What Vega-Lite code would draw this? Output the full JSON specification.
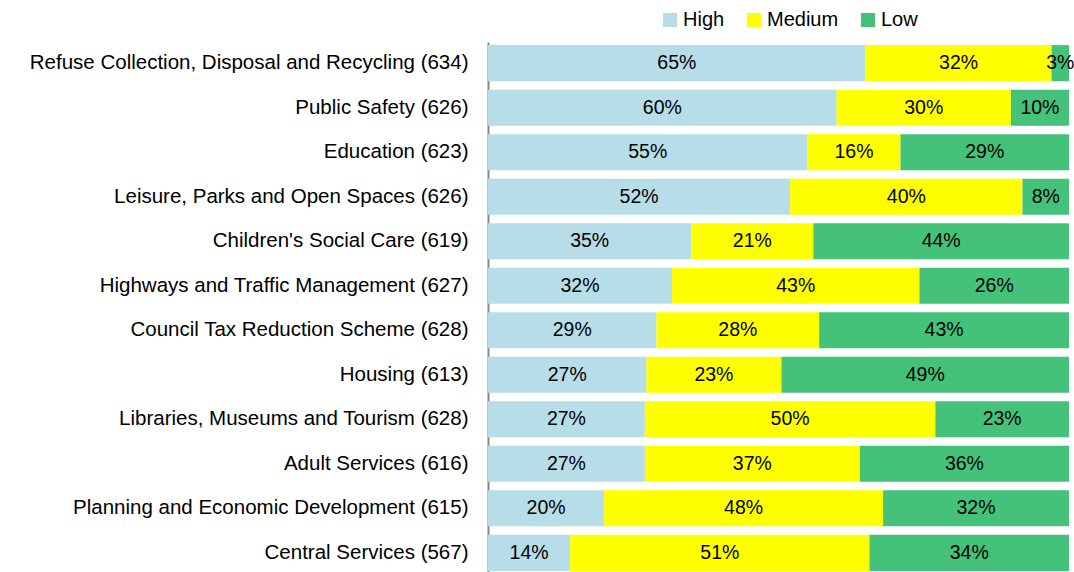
{
  "$schema": "https://vega.github.io/schema/vega-lite/v6.json",
  "autosize": {"type": "none"},
  "width": 581,
  "height": 532,
  "padding": {"left": 488, "top": 42, "right": 5, "bottom": 0},
  "background": "white",
  "config": {"view": {"stroke": null}, "font": "Liberation Sans"},
  "data": {"values": [
    {"cat": "Refuse Collection, Disposal and Recycling (634)", "level": "High", "rank": 1, "pct": 65},
    {"cat": "Refuse Collection, Disposal and Recycling (634)", "level": "Medium", "rank": 2, "pct": 32},
    {"cat": "Refuse Collection, Disposal and Recycling (634)", "level": "Low", "rank": 3, "pct": 3},
    {"cat": "Public Safety (626)", "level": "High", "rank": 1, "pct": 60},
    {"cat": "Public Safety (626)", "level": "Medium", "rank": 2, "pct": 30},
    {"cat": "Public Safety (626)", "level": "Low", "rank": 3, "pct": 10},
    {"cat": "Education (623)", "level": "High", "rank": 1, "pct": 55},
    {"cat": "Education (623)", "level": "Medium", "rank": 2, "pct": 16},
    {"cat": "Education (623)", "level": "Low", "rank": 3, "pct": 29},
    {"cat": "Leisure, Parks and Open Spaces (626)", "level": "High", "rank": 1, "pct": 52},
    {"cat": "Leisure, Parks and Open Spaces (626)", "level": "Medium", "rank": 2, "pct": 40},
    {"cat": "Leisure, Parks and Open Spaces (626)", "level": "Low", "rank": 3, "pct": 8},
    {"cat": "Children's Social Care (619)", "level": "High", "rank": 1, "pct": 35},
    {"cat": "Children's Social Care (619)", "level": "Medium", "rank": 2, "pct": 21},
    {"cat": "Children's Social Care (619)", "level": "Low", "rank": 3, "pct": 44},
    {"cat": "Highways and Traffic Management  (627)", "level": "High", "rank": 1, "pct": 32},
    {"cat": "Highways and Traffic Management  (627)", "level": "Medium", "rank": 2, "pct": 43},
    {"cat": "Highways and Traffic Management  (627)", "level": "Low", "rank": 3, "pct": 26},
    {"cat": "Council Tax Reduction Scheme (628)", "level": "High", "rank": 1, "pct": 29},
    {"cat": "Council Tax Reduction Scheme (628)", "level": "Medium", "rank": 2, "pct": 28},
    {"cat": "Council Tax Reduction Scheme (628)", "level": "Low", "rank": 3, "pct": 43},
    {"cat": "Housing (613)", "level": "High", "rank": 1, "pct": 27},
    {"cat": "Housing (613)", "level": "Medium", "rank": 2, "pct": 23},
    {"cat": "Housing (613)", "level": "Low", "rank": 3, "pct": 49},
    {"cat": "Libraries, Museums and Tourism (628)", "level": "High", "rank": 1, "pct": 27},
    {"cat": "Libraries, Museums and Tourism (628)", "level": "Medium", "rank": 2, "pct": 50},
    {"cat": "Libraries, Museums and Tourism (628)", "level": "Low", "rank": 3, "pct": 23},
    {"cat": "Adult Services (616)", "level": "High", "rank": 1, "pct": 27},
    {"cat": "Adult Services (616)", "level": "Medium", "rank": 2, "pct": 37},
    {"cat": "Adult Services (616)", "level": "Low", "rank": 3, "pct": 36},
    {"cat": "Planning and Economic Development (615)", "level": "High", "rank": 1, "pct": 20},
    {"cat": "Planning and Economic Development (615)", "level": "Medium", "rank": 2, "pct": 48},
    {"cat": "Planning and Economic Development (615)", "level": "Low", "rank": 3, "pct": 32},
    {"cat": "Central Services (567)", "level": "High", "rank": 1, "pct": 14},
    {"cat": "Central Services (567)", "level": "Medium", "rank": 2, "pct": 51},
    {"cat": "Central Services (567)", "level": "Low", "rank": 3, "pct": 34}
  ]},
  "transform": [
    {"stack": "pct", "groupby": ["cat"], "sort": [{"field": "rank", "order": "ascending"}], "offset": "normalize", "as": ["x0", "x1"]},
    {"calculate": "(datum.x0 + datum.x1) / 2", "as": "xm"},
    {"calculate": "datum.pct + '%'", "as": "lab"}
  ],
  "layer": [
    {
      "mark": {"type": "bar"},
      "encoding": {
        "y": {"field": "cat", "type": "nominal", "sort": null,
          "scale": {"paddingInner": 0.19, "paddingOuter": 0.07},
          "axis": {"title": null, "ticks": false, "domainColor": "#888888", "domainWidth": 2, "labelFontSize": 20.5, "labelColor": "#000000", "labelPadding": 20, "labelLimit": 500}},
        "x": {"field": "x0", "type": "quantitative", "scale": {"domain": [0, 1], "nice": false}, "axis": null},
        "x2": {"field": "x1"},
        "color": {"field": "level", "type": "nominal",
          "scale": {"domain": ["High", "Medium", "Low"], "range": ["#b7dde8", "#ffff00", "#45c27a"]},
          "legend": {"title": null, "orient": "none", "legendX": 172, "legendY": -32, "direction": "horizontal", "symbolType": "square", "symbolSize": 196, "symbolStrokeWidth": 0, "symbolOpacity": 1, "labelFontSize": 20, "labelColor": "#000000", "labelOffset": 3, "columnPadding": 19}}
      }
    },
    {
      "mark": {"type": "text", "fontSize": 19.5, "color": "#000000", "baseline": "middle", "align": "center"},
      "encoding": {
        "y": {"field": "cat", "type": "nominal", "sort": null},
        "x": {"field": "xm", "type": "quantitative"},
        "text": {"field": "lab"}
      }
    }
  ]
}
